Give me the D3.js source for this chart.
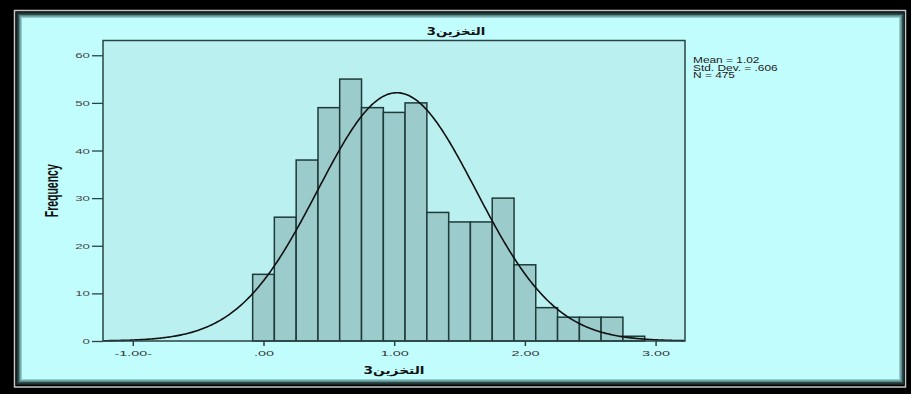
<!DOCTYPE html>
<html><head><meta charset="utf-8">
<script src="https://cdn.jsdelivr.net/npm/d3@7"></script>
<style>html,body{margin:0;padding:0;background:#000;}svg{display:block;}</style>
</head><body>
<svg id="c" width="911" height="394"></svg>
<script>
// ---- data ----
const binEdges = [-0.083, 0.083, 0.25, 0.417, 0.583, 0.75, 0.917, 1.083, 1.25, 1.417, 1.583, 1.75, 1.917, 2.083, 2.25, 2.417, 2.583, 2.75, 2.917];
const counts   = [14, 26, 38, 49, 55, 49, 48, 50, 27, 25, 25, 30, 16, 7, 5, 5, 5, 1];
const yTicks = [0, 10, 20, 30, 40, 50, 60];
const xTicks = [-1, 0, 1, 2, 3];
const xTickLabels = ["-1.00-", ".00", "1.00", "2.00", "3.00"];
const statLabels = ["Mean = 1.02", "Std. Dev. = .606", "N = 475"];
const mean = 1.02, sd = 0.606, n = 475, binWidth = 0.1667;
const titleText = "التخزين3";
const xLabel = "التخزين3";
const yLabel = "Frequency";

const svg = d3.select("#c");
const W = 911, H = 394;
const latin = "'Liberation Sans', Arial, sans-serif";
const arab = "'DejaVu Sans', sans-serif";

// frame
svg.append("rect").attr("x",0).attr("y",0).attr("width",W).attr("height",H).attr("fill","#000");
svg.append("rect").attr("x",14.5).attr("y",10.5).attr("width",891).attr("height",376.5)
  .attr("fill","none").attr("stroke","#c8c8c8").attr("stroke-width",1.5);
const bevel = [["#142424",0],["#2e4c4c",1.5],["#5a8888",3],["#93cccc",4.5],["#c2fdfd",6]];
bevel.forEach(([c,i])=>{
  svg.append("rect").attr("x",16+i).attr("y",12+i).attr("width",889-2*i).attr("height",373-2*i).attr("fill",c);
});

// plot
const L = 103, R = 685, T = 40.5, B = 341;
const x = d3.scaleLinear().domain([-1.228, 3.225]).range([L, R]);
const y = d3.scaleLinear().domain([0, 63.1]).range([B, T]);

svg.append("rect").attr("x",L).attr("y",T).attr("width",R-L).attr("height",B-T).attr("fill","#baf0f0");

const bars = binEdges.slice(0,-1).map((e,i)=>({x0:e, x1:binEdges[i+1], c:counts[i]}));
svg.append("g").selectAll("rect").data(bars).join("rect")
  .attr("x", d=>x(d.x0)).attr("width", d=>x(d.x1)-x(d.x0))
  .attr("y", d=>y(d.c)).attr("height", d=>B-y(d.c))
  .attr("fill","#9ccbcb").attr("stroke","#1e3a3a").attr("stroke-width",1.5);

// normal curve from the displayed statistics
const xs = d3.range(x.domain()[0], x.domain()[1]+0.001, 0.01);
const pdf = v => n*binWidth/(sd*Math.sqrt(2*Math.PI))*Math.exp(-0.5*((v-mean)/sd)**2);
svg.append("path").datum(xs)
  .attr("d", d3.line().x(v=>x(v)).y(v=>y(pdf(v))))
  .attr("fill","none").attr("stroke","#111").attr("stroke-width",1.6);

// plot frame
svg.append("rect").attr("x",L).attr("y",T).attr("width",R-L).attr("height",B-T)
  .attr("fill","none").attr("stroke","#2a4444").attr("stroke-width",1.5);

// y axis
const yAxis = svg.append("g").attr("transform",`translate(${L},0)`)
  .call(d3.axisLeft(y).tickValues(yTicks).tickSize(11).tickPadding(2).tickFormat(d3.format("d")));
yAxis.select(".domain").remove();
yAxis.selectAll(".tick line").attr("stroke","#2a4444").attr("stroke-width",1.3);
yAxis.selectAll(".tick text").each(function(){
  const t = d3.select(this);
  const tx = +t.attr("x");
  t.attr("x",null).attr("dy",null)
   .attr("transform",`translate(${tx},2.5) scale(1.9,1)`);
}).attr("font-family",latin).attr("font-size",7).attr("fill","#444");

// x axis
const xAxis = svg.append("g").attr("transform",`translate(0,${B})`)
  .call(d3.axisBottom(x).tickValues(xTicks).tickSize(5).tickFormat((d,i)=>xTickLabels[i]));
xAxis.select(".domain").remove();
xAxis.selectAll(".tick line").attr("stroke","#2a4444").attr("stroke-width",1.5);
xAxis.selectAll(".tick text").attr("y",null).attr("dy",null)
  .attr("transform","translate(0,14.5) scale(1.8,1)")
  .attr("font-family",latin).attr("font-size",8).attr("fill","#333");

// title
svg.append("text").attr("transform","translate(456,35) scale(1.2,1)")
  .attr("text-anchor","middle").attr("font-family",arab).attr("font-weight","bold")
  .attr("font-size",11).attr("fill","#111").text(titleText);

// x label
svg.append("text").attr("transform",`translate(${(L+R)/2},374) scale(1.25,1)`)
  .attr("text-anchor","middle").attr("font-family",arab).attr("font-weight","bold")
  .attr("font-size",11).attr("fill","#111").text(xLabel);

// y label
svg.append("text").attr("transform",`translate(58,${(T+B)/2}) scale(1.8,1) rotate(-90)`)
  .attr("text-anchor","middle").attr("font-family",latin).attr("font-weight","bold")
  .attr("font-size",10.5).attr("fill","#111").text(yLabel);

// statistics
svg.append("g").selectAll("text").data(statLabels).join("text")
  .attr("transform",(d,i)=>`translate(693,${63+i*7.5}) scale(1.4,1)`)
  .attr("font-family",latin).attr("font-size",8.5).attr("fill","#222").text(d=>d);
</script>
</body></html>
